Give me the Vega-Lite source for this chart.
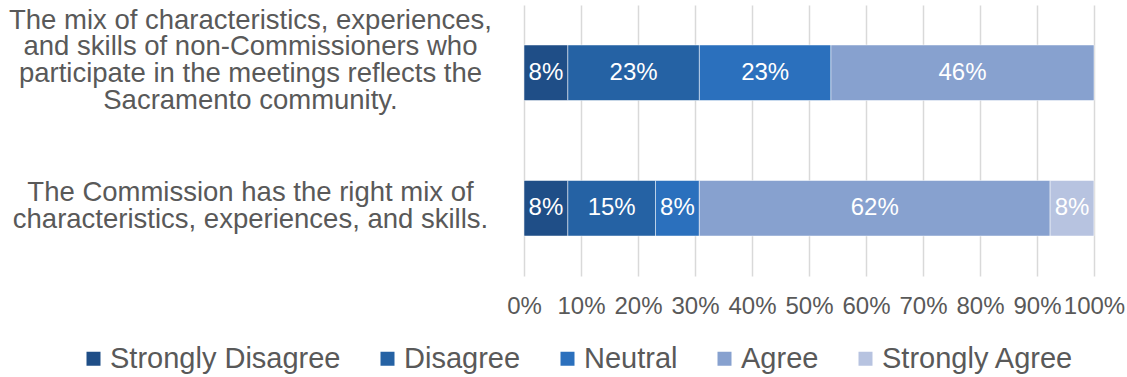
{
  "$schema": "https://vega.github.io/schema/vega-lite/v6.json",
  "autosize": {"type": "none"},
  "padding": {"left": 524, "top": 5, "right": 33, "bottom": 101},
  "width": 570,
  "height": 271,
  "background": "white",
  "config": {"font": "Liberation Sans", "view": {"stroke": null}},
  "data": {"values": [
    {"q": "The mix of characteristics, experiences,|and skills of non-Commissioners who|participate in the meetings reflects the|Sacramento community.", "r": "Strongly Disagree", "k": 1, "v": 0.0769, "t": "8%"},
    {"q": "The mix of characteristics, experiences,|and skills of non-Commissioners who|participate in the meetings reflects the|Sacramento community.", "r": "Disagree", "k": 2, "v": 0.2308, "t": "23%"},
    {"q": "The mix of characteristics, experiences,|and skills of non-Commissioners who|participate in the meetings reflects the|Sacramento community.", "r": "Neutral", "k": 3, "v": 0.2308, "t": "23%"},
    {"q": "The mix of characteristics, experiences,|and skills of non-Commissioners who|participate in the meetings reflects the|Sacramento community.", "r": "Agree", "k": 4, "v": 0.4615, "t": "46%"},
    {"q": "The Commission has the right mix of|characteristics, experiences, and skills.", "r": "Strongly Disagree", "k": 1, "v": 0.0769, "t": "8%"},
    {"q": "The Commission has the right mix of|characteristics, experiences, and skills.", "r": "Disagree", "k": 2, "v": 0.1538, "t": "15%"},
    {"q": "The Commission has the right mix of|characteristics, experiences, and skills.", "r": "Neutral", "k": 3, "v": 0.0769, "t": "8%"},
    {"q": "The Commission has the right mix of|characteristics, experiences, and skills.", "r": "Agree", "k": 4, "v": 0.6154, "t": "62%"},
    {"q": "The Commission has the right mix of|characteristics, experiences, and skills.", "r": "Strongly Agree", "k": 5, "v": 0.0769, "t": "8%"}
  ]},
  "transform": [
    {"stack": "v", "groupby": ["q"], "sort": [{"field": "k", "order": "ascending"}], "as": ["v0", "v1"]},
    {"calculate": "(datum.v0 + datum.v1) / 2", "as": "mid"}
  ],
  "encoding": {
    "y": {
      "field": "q", "type": "nominal", "sort": null, "title": null,
      "scale": {"paddingInner": 0.59, "paddingOuter": 0.295},
      "axis": {
        "domain": false, "ticks": false, "grid": false,
        "labelExpr": "split(datum.label, '|')",
        "labelAlign": "center", "labelBaseline": "middle",
        "labelPadding": 274, "labelLimit": 700,
        "labelFontSize": 27.5, "labelLineHeight": 26.7, "labelColor": "#595959",
        "labelOffset": {"condition": {"test": "indexof(datum.value, 'Sacramento') >= 0", "value": -52}, "value": -15}
      }
    }
  },
  "layer": [
    {
      "mark": {"type": "bar", "stroke": "white", "strokeWidth": 0.5},
      "encoding": {
        "x": {"field": "v0", "type": "quantitative", "title": null,
          "scale": {"domain": [0, 1]},
          "axis": {"format": ".0%", "values": [0,0.1,0.2,0.3,0.4,0.5,0.6,0.7,0.8,0.9,1], "domain": false, "ticks": false, "grid": true, "gridColor": "#d9d9d9", "gridWidth": 1.5, "labelFontSize": 24, "labelColor": "#595959", "labelPadding": 18, "labelFlush": false, "labelOverlap": false}},
        "x2": {"field": "v1"},
        "color": {
          "field": "r", "type": "nominal", "title": null,
          "scale": {"domain": ["Strongly Disagree", "Disagree", "Neutral", "Agree", "Strongly Agree"],
                    "range": ["#1f4e87", "#2562a4", "#2b70bd", "#87a1cf", "#b7c3e0"]},
          "legend": {"orient": "none", "direction": "horizontal", "legendX": -445, "legendY": 339,
            "symbolType": "square", "symbolSize": 196, "symbolStrokeWidth": 0,
            "labelFontSize": 29, "labelColor": "#595959", "columnPadding": 32, "labelOffset": 2, "labelLimit": 400}
        },
        "order": {"field": "k"}
      }
    },
    {
      "mark": {"type": "text", "color": "white", "fontSize": 24},
      "encoding": {
        "x": {"field": "mid", "type": "quantitative"},
        "text": {"field": "t"}
      }
    }
  ]
}
